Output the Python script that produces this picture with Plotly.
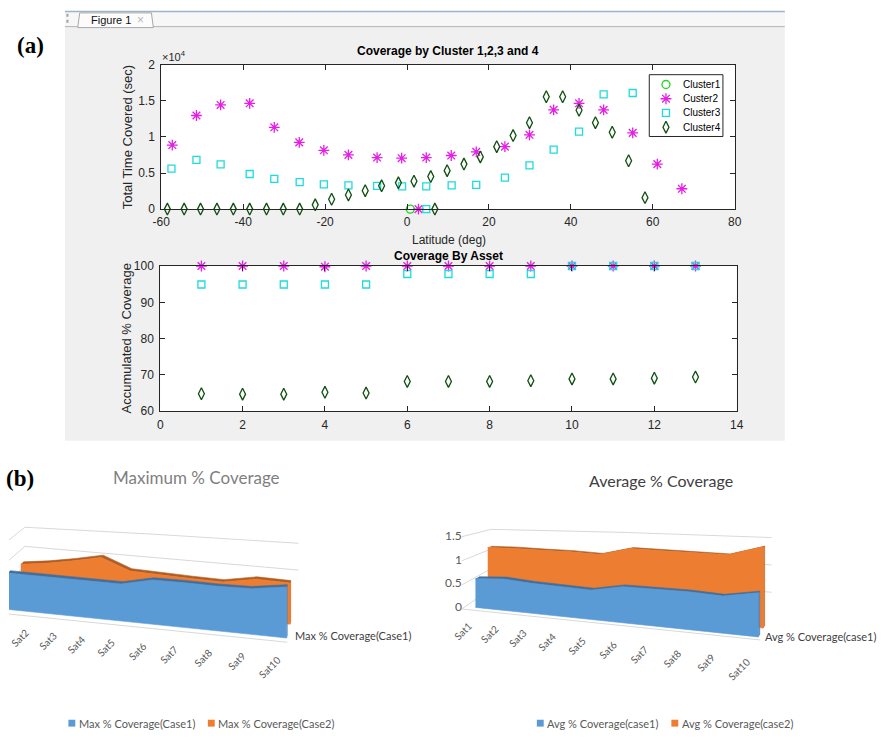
import numpy as np
import plotly.graph_objects as go

W, H = 890, 739

# ---------------- data: panel (a) top  (Coverage by Cluster) ----------------
lat_c1 = [0.8]
time_c1 = [0]

lat_c2 = [-57.3, -51.4, -45.5, -38.4, -32.4, -26.3, -20.3, -14.3, -7.3, -1.3, 2.8,
          4.7, 10.8, 16.9, 23.9, 29.9, 35.8, 42.0, 48.0, 55.1, 61.1, 67.1]
time_c2 = [8880, 12980, 14440, 14670, 11340, 9250, 8150, 7520, 7150, 7060, 0,
           7150, 7430, 7930, 8660, 10300, 13760, 14670, 13760, 10570, 6240, 2820]

lat_c3 = [-57.5, -51.4, -45.5, -38.4, -32.4, -26.2, -20.3, -14.3, -7.3, -1.2, 4.7,
          4.7, 10.9, 16.9, 23.9, 29.9, 35.8, 42.0, 48.0, 55.1]
time_c3 = [5600, 6830, 6200, 4870, 4190, 3740, 3420, 3280, 3230, 3140, 3140,
           0, 3280, 3370, 4370, 6060, 8250, 10750, 15900, 16100]

lat_c4 = [-58.5, -54.4, -50.4, -46.4, -42.4, -38.4, -34.3, -30.2, -26.2, -22.4, -18.4,
          -14.3, -10.2, -6.2, -2.1, 1.7, 5.8, 6.8, 9.8, 13.9, 17.9, 21.9, 25.9,
          29.9, 34.0, 38.0, 42.0, 46.0, 50.1, 54.1, 58.1]
time_c4 = [0, 0, 0, 0, 0, 0, 0, 0, 0, 590, 1370,
           1960, 2550, 3230, 3640, 3870, 4510, 0, 5330, 6240, 7240, 8660, 10200,
           11980, 15580, 15580, 13710, 11980, 10660, 6700, 1590]

# ---------------- data: panel (a) bottom (Coverage by Asset) ----------------
asset = list(range(1, 14))
acc_c2 = [100.0, 100.0, 100.0, 99.8, 100.0, 100.0, 100.0, 100.0, 100.0, 100.0, 100.0, 100.0, 100.0]
acc_c3 = [94.9, 94.9, 94.9, 94.9, 94.9, 97.8, 97.8, 97.8, 97.8, 100.0, 100.0, 100.0, 100.0]
acc_c4 = [64.8, 64.7, 64.7, 65.2, 65.0, 68.2, 68.2, 68.2, 68.4, 68.9, 68.9, 69.1, 69.4]

# ---------------- data: panel (b) (Excel 3-D area charts) ----------------
sats = ["Sat1", "Sat2", "Sat3", "Sat4", "Sat5", "Sat6", "Sat7", "Sat8", "Sat9", "Sat10"]
max_case1 = [77.6, 74.7, 72.0, 70.7, 68.5, 79.1, 77.7, 75.1, 74.5, 81.0]
max_case2 = [70.6, 76.1, 84.4, 94.4, 70.6, 66.8, 64.3, 62.2, 71.3, 69.0]
avg_case1 = [0.60, 0.63, 0.58, 0.55, 0.53, 0.63, 0.63, 0.62, 0.59, 0.68]
avg_case2 = [1.16, 1.16, 1.14, 1.13, 1.10, 1.24, 1.22, 1.21, 1.20, 1.36]
max_ticks = [50, 100]
avg_ticks = [0, 0.5, 1, 1.5]

top_xticks = [-60, -40, -20, 0, 20, 40, 60, 80]
top_yticks = [0, 5000, 10000, 15000, 20000]
top_yticktext = ["0", "0.5", "1", "1.5", "2"]

# ---------------- helpers ----------------
def px(x):
    return x / W

def py(y):
    return 1 - y / H

annotations = []
shapes = []
traces = []

def ann(x, y, text, size=11, color="#262626", family="Liberation Sans",
        xanchor="center", yanchor="middle", angle=0):
    annotations.append(dict(x=px(x), y=py(y), xref="paper", yref="paper", text=text,
                            showarrow=False, xanchor=xanchor, yanchor=yanchor,
                            textangle=angle, borderpad=0,
                            font=dict(family=family, size=size, color=color)))

def rect(x0, y0, x1, y1, fill, line="rgba(0,0,0,0)", lw=0, layer="below"):
    shapes.append(dict(type="rect", xref="paper", yref="paper", x0=px(x0), x1=px(x1),
                       y0=py(y0), y1=py(y1), fillcolor=fill,
                       line=dict(color=line, width=lw), layer=layer))

def seg(x0, y0, x1, y1, color, lw=1, dash="solid", layer="below"):
    shapes.append(dict(type="line", xref="paper", yref="paper", x0=px(x0), x1=px(x1),
                       y0=py(y0), y1=py(y1), line=dict(color=color, width=lw, dash=dash),
                       layer=layer))

# ---------------- MATLAB window background ----------------
rect(57, 5, 790, 442, "#f0f0f0")
rect(57, 5, 790, 20, "#f7f7f7")
seg(57, 4.5, 790, 4.5, "#9fb3c9", 1.5)
seg(57, 20, 790, 20, "#b4b4b4", 1)
shapes.append(dict(type="path", xref="paper", yref="paper",
                   path=f"M {px(70)},{py(21)} L {px(72)},{py(6)} L {px(145)},{py(6)} L {px(147)},{py(21)} Z",
                   fillcolor="#fcfcfc", line=dict(color="#a8a8a8", width=1), layer="below"))
seg(59.5, 7, 59.5, 19, "#a0a0a0", 2, "dot")
ann(82, 13.5, "Figure 1", 11, "#111111", "Liberation Sans", "left")
ann(134, 13.5, "×", 12, "#b8b8b8", "Liberation Sans")

# white axes backgrounds
shapes.append(dict(type="rect", xref="x domain", yref="y domain", x0=0, x1=1, y0=0, y1=1,
                   fillcolor="white", line=dict(width=0), layer="below"))
shapes.append(dict(type="rect", xref="x2 domain", yref="y2 domain", x0=0, x1=1, y0=0, y1=1,
                   fillcolor="white", line=dict(width=0), layer="below"))

# ---------------- MATLAB scatter traces ----------------
sty = {
    "Cluster1": dict(symbol="circle-open", size=8, color="#22d422"),
    "Custer2": dict(symbol="asterisk-open", size=9, color="#e61ee6"),
    "Cluster3": dict(symbol="square-open", size=7, color="#1ddcdc"),
    "Cluster4": dict(symbol="diamond-tall-open", size=8.5, color="#0f4f0f"),
}

def mk(name):
    s = sty[name]
    return dict(symbol=s["symbol"], size=s["size"], color=s["color"],
                line=dict(color=s["color"], width=1.3))

for name, xs, ys in [("Cluster1", lat_c1, time_c1), ("Custer2", lat_c2, time_c2),
                     ("Cluster3", lat_c3, time_c3), ("Cluster4", lat_c4, time_c4)]:
    traces.append(go.Scatter(x=xs, y=ys, mode="markers", name=name, marker=mk(name),
                             cliponaxis=False, showlegend=False, xaxis="x", yaxis="y"))

for name, ys in [("Custer2", acc_c2), ("Cluster3", acc_c3), ("Cluster4", acc_c4)]:
    traces.append(go.Scatter(x=asset, y=ys, mode="markers", name=name, marker=mk(name),
                             cliponaxis=False, showlegend=False, xaxis="x2", yaxis="y2"))

# MATLAB legend (drawn by hand)
rect(652, 69, 727, 132, "white", "#262626", 1, layer="below")
leg_rows = [79, 93.5, 108, 122.5]
for name, yy in zip(["Cluster1", "Custer2", "Cluster3", "Cluster4"], leg_rows):
    traces.append(go.Scatter(x=[669], y=[yy], mode="markers", marker=mk(name),
                             showlegend=False, hoverinfo="skip", cliponaxis=False,
                             xaxis="x3", yaxis="y3"))
    ann(685, yy, name, 10, "#000000", "Liberation Sans", "left")

# MATLAB texts
ann(447, 45, "<b>Coverage by Cluster 1,2,3 and 4</b>", 12, "#000000")
ann(448, 254, "<b>Coverage By Asset</b>", 12, "#000000")
ann(448, 237, "Latitude (deg)", 12, "#262626")
ann(121, 132, "Total Time Covered (sec)", 13, "#262626", angle=-90)
ann(120, 338, "Accumulated % Coverage", 13, "#262626", angle=-90)
ann(155, 50, "×10<sup>4</sup>", 11, "#262626", xanchor="left")
ann(22, 39, "<b>(a)</b>", 23, "#000000", "Liberation Serif")
ann(26, 481, "<b>(b)</b>", 23, "#000000", "Liberation Serif", xanchor="right")

# ---------------- pseudo 3-D area charts ----------------
def proj(G, i, d, v):
    i = np.asarray(i, dtype=float)
    v = np.asarray(v, dtype=float)
    xf = G["xb"] * i + G["xc"] * i ** 2
    x = G["x0"] + xf + d * (G["dx0"] + (G["dx9"] - G["dx0"]) * i / 9.0)
    y = G["y0"] + G["ys"] * xf + d * G["dy"] - v * G["s"] * (1 + G["m"] * i) * (1 - G["md"] * d)
    return x, y

def poly(x, y, fill):
    traces.append(go.Scatter(x=list(x), y=list(y), mode="lines", fill="toself",
                             fillcolor=fill, line=dict(color=fill, width=0.6),
                             hoverinfo="skip", showlegend=False, xaxis="x3", yaxis="y3"))

def line3(x, y, color, width=1):
    traces.append(go.Scatter(x=list(x), y=list(y), mode="lines",
                             line=dict(color=color, width=width),
                             hoverinfo="skip", showlegend=False, xaxis="x3", yaxis="y3"))

BLUE = ("#5b9bd5", "#3f6f9e", "#4c86bd")
ORANGE = ("#ed7d31", "#b05c22", "#c96a29")

def slab(G, vals, d, cols):
    face, top, side = cols
    t = G["t"]
    n = len(vals)
    idx = np.arange(n)
    v = np.array(vals, dtype=float)
    fx, fy = proj(G, idx, d, v)
    bx, by = proj(G, idx, d + t, v)
    gx, gy = proj(G, idx, d, 0 * v)
    hx, hy = proj(G, idx, d + t, 0 * v)
    poly([fx[-1], bx[-1], hx[-1], gx[-1]], [fy[-1], by[-1], hy[-1], gy[-1]], side)
    poly(np.concatenate([fx, bx[::-1]]), np.concatenate([fy, by[::-1]]), top)
    poly(np.concatenate([fx, [gx[-1], gx[0]]]), np.concatenate([fy, [gy[-1], gy[0]]]), face)

def frame(G, ticks):
    grid = "#d9d9d9"
    isd, ie, D, fl = G["iside"], G["iend"], G["wall"], G["floor"]
    ii = np.linspace(isd, ie, 30)
    for g in ticks:
        if g == 0:
            continue
        x1, y1 = proj(G, isd, fl, g)
        wx, wy = proj(G, ii, D, g * np.ones_like(ii))
        line3(np.concatenate([[x1], wx]), np.concatenate([[y1], wy]), grid, 1)
    ex, ey = proj(G, ii, fl, 0 * ii)
    x1, y1 = proj(G, isd, D, 0)
    line3(np.concatenate([[x1], ex]), np.concatenate([[y1], ey]), grid, 1)

GL = dict(x0=-1.5, xb=26.8, xc=0.53, y0=614, ys=0.1025, dx0=13.5, dx9=3.5, dy=-14,
          s=0.477, m=0.0385, md=0.05, wall=3.0, iside=-1.0, iend=9.05, t=0.2, floor=-0.3)
GR = dict(x0=475, xb=27.5, xc=0.5, y0=612, ys=0.1045, dx0=12.5, dx9=5, dy=-9,
          s=48.7, m=0.04, md=0.08, wall=2.0, iside=-0.37, iend=9.1, t=0.3, floor=-0.3)

frame(GL, max_ticks)
slab(GL, max_case2, 1.0, ORANGE)
slab(GL, max_case1, 0.0, BLUE)
frame(GR, avg_ticks)
slab(GR, avg_case2, 1.0, ORANGE)
slab(GR, avg_case1, 0.0, BLUE)

for g in avg_ticks:
    x, y = proj(GR, GR["iside"], 0.0, g)
    ann(float(x) - 3, float(y), f"{g:g}", 12, "#595959", "Lato", xanchor="right")

for k, s in enumerate(sats):
    x, y = proj(GL, k, 0.0, 0.0)
    if float(x) > 4:
        ann(float(x) - 2, float(y) + 13 + 0.2 * k, s, 10, "#595959", "Lato",
            xanchor="right", yanchor="top", angle=-45)
    x, y = proj(GR, k, 0.0, 0.0)
    ann(float(x) - 0.5 * k, float(y) + 11 + 0.7 * k, s, 10, "#595959", "Lato",
        xanchor="right", yanchor="top", angle=-45)

x, y = proj(GL, len(sats) - 1, 0.0, 0.0)
ann(float(x) + 8, float(y) - 2, "Max % Coverage(Case1)", 11, "#404040", "Lato", xanchor="left")
x, y = proj(GR, len(sats) - 1, 0.0, 0.0)
ann(float(x) + 6, float(y), "Avg % Coverage(case1)", 11, "#404040", "Lato", xanchor="left")

ann(191, 480, "Maximum % Coverage", 17, "#7f7f7f", "Lato")
ann(664, 483, "Average % Coverage", 16, "#404040", "Lato")

for cx, col, txt in [(64, BLUE[0], "Max % Coverage(Case1)"), (206, ORANGE[0], "Max % Coverage(Case2)"),
                     (541, BLUE[0], "Avg % Coverage(case1)"), (678, ORANGE[0], "Avg % Coverage(case2)")]:
    rect(cx - 3.5, 726.5, cx + 3.5, 733.5, col, layer="above")
    ann(cx + 6, 730, txt, 11, "#595959", "Lato", xanchor="left")

# ---------------- figure ----------------
fig = go.Figure(traces)

ax_common = dict(showline=True, linecolor="#262626", linewidth=1, mirror="allticks",
                 ticks="inside", ticklen=5, tickcolor="#262626", showgrid=False,
                 zeroline=False, fixedrange=True,
                 tickfont=dict(family="Liberation Sans", size=12, color="#262626"))

fig.update_layout(
    width=W, height=H, autosize=False,
    margin=dict(l=0, r=0, t=0, b=0),
    paper_bgcolor="white", plot_bgcolor="rgba(0,0,0,0)",
    showlegend=False,
    xaxis=dict(domain=[155 / W, 739 / W], range=[-60, 80], tickvals=top_xticks,
               ticktext=[str(v) for v in top_xticks], ticklabelstandoff=2,
               anchor="y", **ax_common),
    yaxis=dict(domain=[1 - 206 / H, 1 - 59 / H], range=[0, 20000],
               tickvals=top_yticks, ticktext=top_yticktext, ticklabelstandoff=3,
               anchor="x", **ax_common),
    xaxis2=dict(domain=[154 / W, 741 / W], range=[0, 14], tick0=0, dtick=2,
                ticklabelstandoff=2, anchor="y2", **ax_common),
    yaxis2=dict(domain=[1 - 412 / H, 1 - 264 / H], range=[60, 100], tick0=60, dtick=10,
                ticklabelstandoff=3, anchor="x2", **ax_common),
    xaxis3=dict(domain=[0, 1], range=[0, W], visible=False, anchor="y3", fixedrange=True),
    yaxis3=dict(domain=[0, 1], range=[H, 0], visible=False, anchor="x3", fixedrange=True),
    annotations=annotations,
    shapes=shapes,
)

fig.write_html("out.html")
